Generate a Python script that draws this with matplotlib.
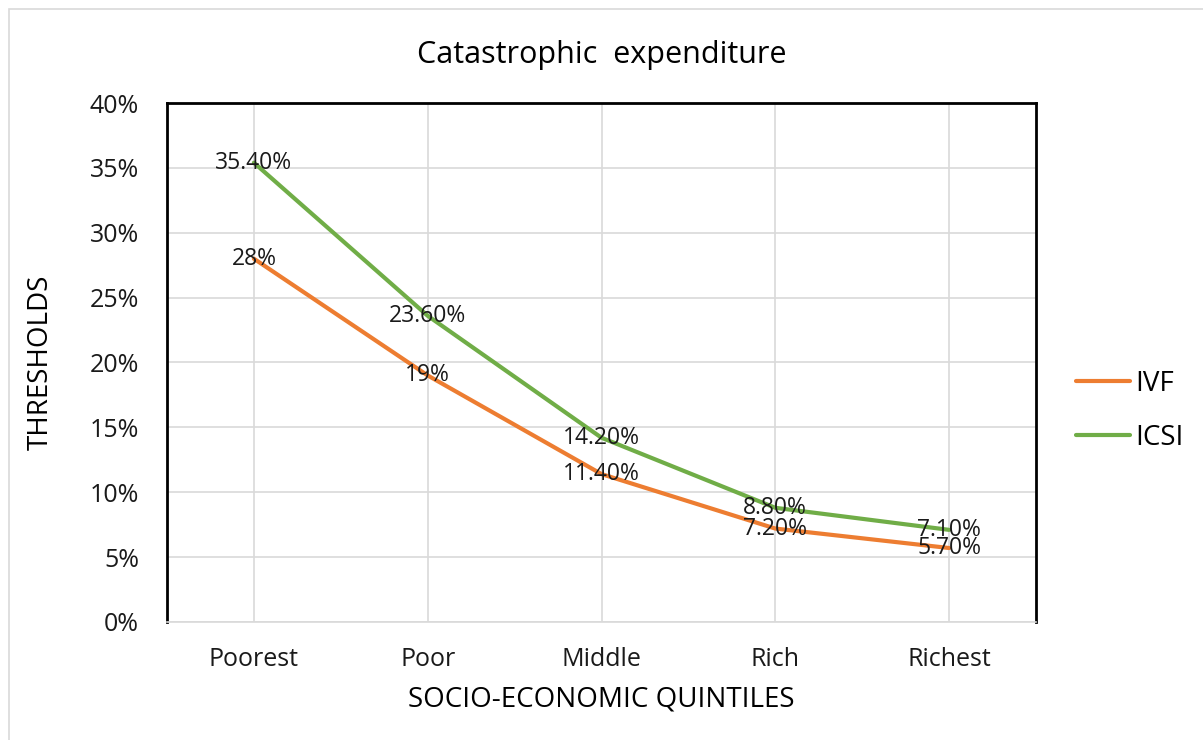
import matplotlib.pyplot as plt
from matplotlib.patches import Rectangle
from matplotlib.ticker import PercentFormatter

plt.rcParams["font.family"] = ["Open Sans", "DejaVu Sans"]

quintiles = ["Poorest", "Poor", "Middle", "Rich", "Richest"]
ivf = [28.0, 19.0, 11.4, 7.2, 5.7]
icsi = [35.4, 23.6, 14.2, 8.8, 7.1]
ivf_labels = ["28%", "19%", "11.40%", "7.20%", "5.70%"]
icsi_labels = ["35.40%", "23.60%", "14.20%", "8.80%", "7.10%"]

orange = "#ED7D31"
green = "#70AD47"

fig = plt.figure(figsize=(12.03, 7.40), dpi=100)
ax = fig.add_axes([0.1388, 0.1595, 0.7224, 0.7013])

# light frame around the chart area (left and top edges only)
fig.patches.append(Rectangle((9 / 1203, -0.1), 1.2, 1 - 9 / 740 + 0.1,
                             transform=fig.transFigure, fill=False,
                             edgecolor="#d9d9d9", linewidth=1.2))

x = range(len(quintiles))
ax.plot(x, ivf, color=orange, linewidth=3, label="IVF",
        solid_capstyle="round", zorder=3)
ax.plot(x, icsi, color=green, linewidth=3, label="ICSI",
        solid_capstyle="round", zorder=3)

for xi, yi, txt in zip(x, ivf, ivf_labels):
    ax.text(xi, yi, txt, ha="center", va="center", fontsize=16.5,
            color="#1a1a1a", zorder=4)
for xi, yi, txt in zip(x, icsi, icsi_labels):
    ax.text(xi, yi, txt, ha="center", va="center", fontsize=16.5,
            color="#1a1a1a", zorder=4)

ax.set_xlim(-0.5, len(quintiles) - 0.5)
ax.set_ylim(0, 40)
ax.set_yticks(range(0, 41, 5))
ax.yaxis.set_major_formatter(PercentFormatter(decimals=0))
ax.set_xticks(list(x))
ax.set_xticklabels(quintiles)
ax.tick_params(axis="both", length=0, labelsize=18, colors="#1a1a1a")
ax.tick_params(axis="y", pad=20)
ax.tick_params(axis="x", pad=18)

ax.grid(True, color="#d9d9d9", linewidth=1.2, zorder=0)
ax.set_axisbelow(True)
for side in ("left", "top", "right"):
    ax.spines[side].set_color("black")
    ax.spines[side].set_linewidth(2)
ax.spines["bottom"].set_color("#d9d9d9")
ax.spines["bottom"].set_linewidth(1.2)

ax.set_title("Catastrophic  expenditure", fontsize=22, pad=29)
ax.set_ylabel("THRESHOLDS", fontsize=20, labelpad=25)
ax.set_xlabel("SOCIO-ECONOMIC QUINTILES", fontsize=20, labelpad=10)

ax.legend(loc="center left", bbox_to_anchor=(1.046, 0.4066), frameon=False,
          fontsize=20, handlelength=1.95, handletextpad=0.2, labelspacing=0.95,
          borderpad=0, borderaxespad=0)

fig.savefig("out.png", dpi=100)
